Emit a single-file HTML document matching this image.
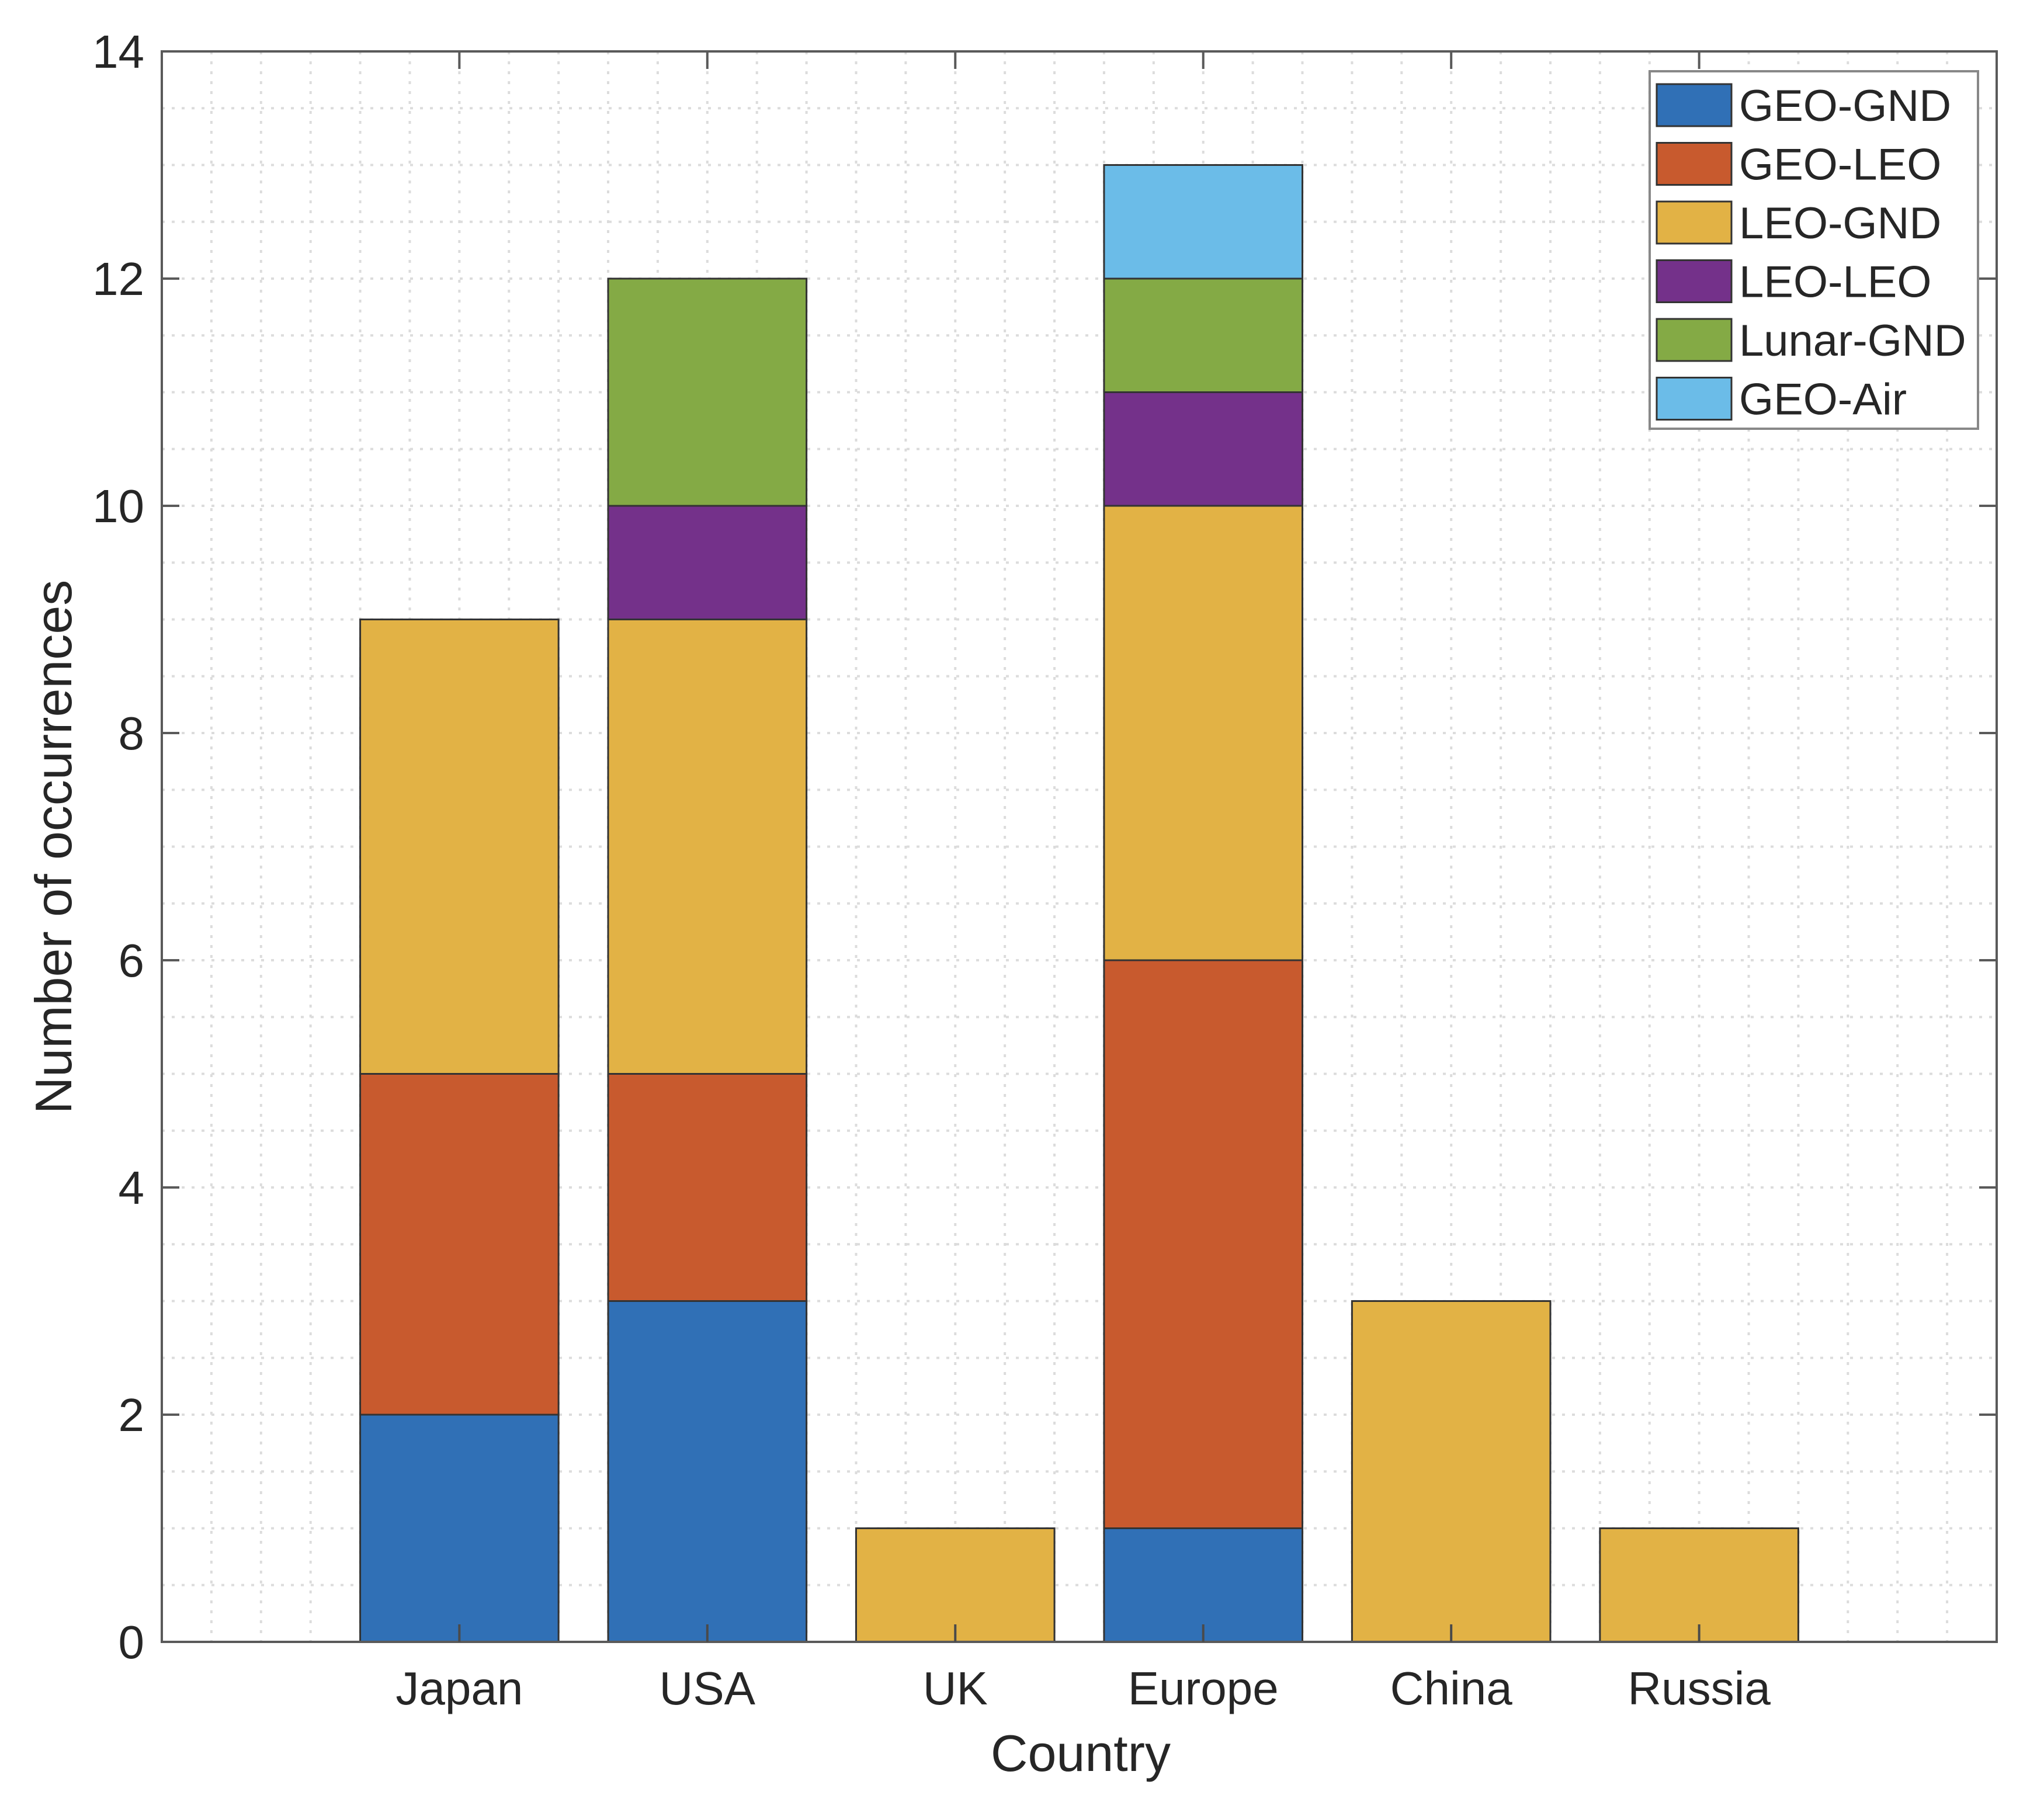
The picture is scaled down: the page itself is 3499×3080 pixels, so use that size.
<!DOCTYPE html>
<html><head><meta charset="utf-8"><style>
html,body{margin:0;padding:0;background:#fff}
svg{display:block}
text{font-family:"Liberation Sans",sans-serif;fill:#262626}
</style></head><body>
<svg id="chart" width="3499" height="3080" viewBox="0 0 3499 3080" xmlns="http://www.w3.org/2000/svg">
<rect x="0" y="0" width="3499" height="3080" fill="#fff"/>
<g id="grid"></g>
<g id="bars"></g>
<g id="axes"></g>
<text x="1850" y="3032" font-size="88" text-anchor="middle">Country</text>
<text transform="translate(122,1450) rotate(-90)" font-size="88" text-anchor="middle">Number of occurrences</text>
<g id="legend"></g>
</svg>
<script>
const categories = ["Japan","USA","UK","Europe","China","Russia"];
const seriesNames = ["GEO-GND","GEO-LEO","LEO-GND","LEO-LEO","Lunar-GND","GEO-Air"];
const geoGnd = [2,3,0,1,0,0];
const geoLeo = [3,2,0,5,0,0];
const leoGnd = [4,4,1,4,3,1];
const leoLeo = [0,1,0,1,0,0];
const lunarGnd = [0,2,0,1,0,0];
const geoAir = [0,0,0,1,0,0];
const yTicks = [0,2,4,6,8,10,12,14];

const series = [geoGnd,geoLeo,leoGnd,leoLeo,lunarGnd,geoAir];
const colors = ["#3070b6","#c85a2e","#e2b245","#74318a","#84aa45","#6bbce8"];
const NS="http://www.w3.org/2000/svg";
const L=277,R=3418,T=88,B=2811;
const xMin=-0.2,xMax=7.2,yMin=0,yMax=14;
const xs=v=>L+(v-xMin)/(xMax-xMin)*(R-L);
const ys=v=>B-(v-yMin)/(yMax-yMin)*(B-T);
function mk(tag,attrs,parent){const e=document.createElementNS(NS,tag);for(const k in attrs)e.setAttribute(k,attrs[k]);parent.appendChild(e);return e;}
const grid=document.getElementById('grid'),bars=document.getElementById('bars'),axes=document.getElementById('axes'),legend=document.getElementById('legend');
// minor/major grid
for(let v=0;v<=7.2+1e-9;v+=0.2){const x=xs(v);if(x<L+2||x>R-2)continue;
 const g=mk('line',{x1:x,x2:x,y1:T,y2:B,stroke:'#dcdcdc','stroke-width':4,'stroke-dasharray':'5 12'},grid);
 }
for(let v=0.5;v<14;v+=0.5){const y=ys(v);
 const g=mk('line',{x1:L,x2:R,y1:y,y2:y,stroke:'#dcdcdc','stroke-width':4,'stroke-dasharray':'5 12'},grid);
 }
// bars
const bw=0.8;
categories.forEach((c,i)=>{let base=0;
 series.forEach((s,j)=>{const v=s[i];
  const y0=ys(base),y1=ys(base+v);
  if(v>0||j<3){
   const r=mk('rect',{x:xs(i+1-bw/2),y:y1,width:xs(i+1+bw/2)-xs(i+1-bw/2),height:y0-y1,fill:colors[j],stroke:'#333','stroke-width':3},bars);
   
   }
  base+=v;});
});
// axes box
const box=mk('rect',{x:L,y:T,width:R-L,height:B-T,fill:'none',stroke:'#5a5a5a','stroke-width':4},axes);

yTicks.forEach(v=>{const y=ys(v);
 mk('line',{x1:L,x2:L+30,y1:y,y2:y,stroke:'#5a5a5a','stroke-width':4},axes);
 mk('line',{x1:R,x2:R-30,y1:y,y2:y,stroke:'#5a5a5a','stroke-width':4},axes);
 const t=mk('text',{x:247,y:y+28,'font-size':80,'text-anchor':'end'},axes);t.textContent=v;
 });
categories.forEach((c,i)=>{const x=xs(i+1);
 mk('line',{x1:x,x2:x,y1:B,y2:B-30,stroke:'#4a4a4a','stroke-width':4},axes);
 mk('line',{x1:x,x2:x,y1:T,y2:T+30,stroke:'#5a5a5a','stroke-width':4},axes);
 const t=mk('text',{x:x,y:2918,'font-size':80,'text-anchor':'middle'},axes);t.textContent=c;
 });
// legend
const lb=mk('rect',{x:2824,y:122,width:562,height:612,fill:'#fff',stroke:'#888','stroke-width':4},legend);

seriesNames.forEach((n,j)=>{const cy=180+j*100.5;
 const sw=mk('rect',{x:2836,y:cy-36,width:128,height:72,fill:colors[j],stroke:'#333','stroke-width':3},legend);
 
 const t=mk('text',{x:2977,y:cy+27,'font-size':76,fill:'#000'},legend);t.textContent=n;
 });
</script>
</body></html>
